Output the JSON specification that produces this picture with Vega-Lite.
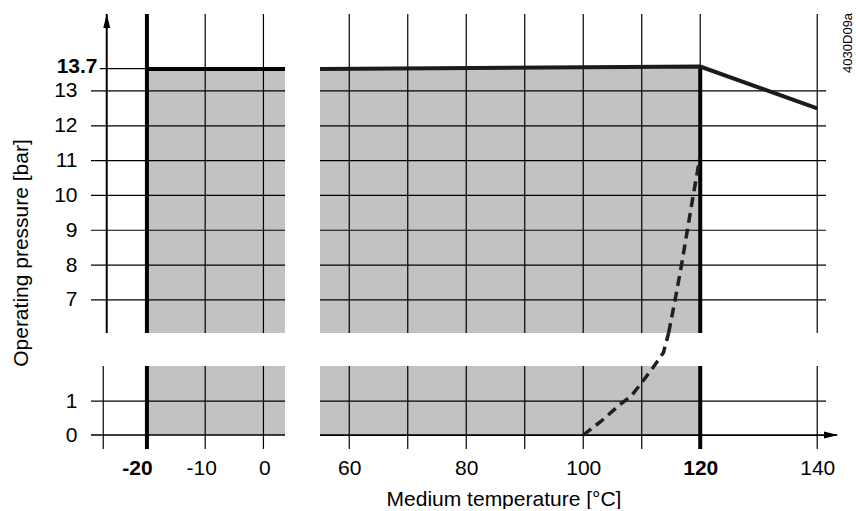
{
  "$schema": "https://vega.github.io/schema/vega-lite/v6.json",
  "padding": {"left": 10, "top": 12, "right": 0, "bottom": 0},
  "background": "white",
  "config": {
    "view": {"stroke": null},
    "axis": {"domain": false, "ticks": false, "tickSize": 0, "grid": false, "labelFont": "Liberation Sans", "labelFontSize": 21, "labelColor": "black", "titleFont": "Liberation Sans", "titleFontSize": 21, "titleFontWeight": "normal", "titleColor": "black"},
    "text": {"font": "Liberation Sans"}
  },
  "datasets": {
    "tlGray": [{"t": -20, "t2": 5, "p": 0, "p2": 13.63}],
    "gridTop": [{"p": 7}, {"p": 8}, {"p": 9}, {"p": 10}, {"p": 11}, {"p": 12}, {"p": 13}],
    "tick137": [{"t": -28.1, "t2": -20, "p": 13.64}],
    "tlThin": [{"t": -10}, {"t": 0}],
    "tlThick": [{"t": -20}],
    "yArrow": [{"t": -26.9, "p": 15.21}],
    "tlBound": [{"t": -20, "p": 13.63}, {"t": 5, "p": 13.63}],
    "trFill": [{"t": 50, "p": 13.625, "p0": 0}, {"t": 120, "p": 13.7, "p0": 0}],
    "trThin": [{"t": 60}, {"t": 70}, {"t": 80}, {"t": 90}, {"t": 100}, {"t": 110}, {"t": 120}, {"t": 140}],
    "trThick": [{"t": 120, "p": 0, "p2": 13.7}],
    "trBound": [{"t": 55, "p": 13.63}, {"t": 120, "p": 13.7}, {"t": 140, "p": 12.5}],
    "dashTop": [{"t": 114.6, "p": 6.05}, {"t": 115.7, "p": 7}, {"t": 116.8, "p": 8}, {"t": 117.8, "p": 9}, {"t": 118.8, "p": 10}, {"t": 119.9, "p": 11.05}],
    "code": [{"t": 146.0, "p": 14.38, "label": "4030D09a"}],
    "blGray": [{"t": -20, "t2": 5, "p": 0, "p2": 3}],
    "bGrid1": [{"p": 1}],
    "bGrid0": [{"p": 0}],
    "blThin": [{"t": -27.5}, {"t": -10}, {"t": 0}],
    "blThick": [{"t": -20}],
    "brGray": [{"t": 50, "t2": 120, "p": 0, "p2": 3}],
    "brAxis0": [{"t": 55, "t2": 143.4, "p": 0}],
    "xArrow": [{"t": 143.55, "p": 0}],
    "brThin": [{"t": 60}, {"t": 70}, {"t": 80}, {"t": 90}, {"t": 100}, {"t": 110}, {"t": 140}],
    "brThick": [{"t": 120}],
    "dashBot": [{"t": 100, "p": 0}, {"t": 103, "p": 0.4}, {"t": 106.3, "p": 0.9}, {"t": 108.2, "p": 1.15}, {"t": 110, "p": 1.54}, {"t": 112, "p": 2.0}, {"t": 113.7, "p": 2.42}, {"t": 114.6, "p": 3.0}]
  },
  "columns": 2,
  "align": "each",
  "bounds": "flush",
  "spacing": {"row": 33, "column": 35},
  "concat": [
    {
      "width": 194, "height": 319,
      "layer": [
        {"data": {"name": "tlGray"}, "mark": {"type": "rect", "color": "#c2c2c2", "clip": true},
         "encoding": {
           "x": {"field": "t", "type": "quantitative", "scale": {"domain": [-29.6, 3.7], "nice": false, "zero": false}, "axis": null},
           "x2": {"field": "t2"},
           "y": {"field": "p", "type": "quantitative", "scale": {"domain": [6.05, 15.21], "nice": false, "zero": false},
                 "axis": {"values": [7, 8, 9, 10, 11, 12, 13, 13.7], "format": ".1~f", "title": "Operating pressure [bar]",
                          "labelPadding": {"condition": {"test": "datum.value == 13.7", "value": -6}, "value": 14},
                          "labelFontWeight": {"condition": {"test": "datum.value == 13.7", "value": "bold"}, "value": "normal"},
                          "titleX": -64, "titleY": 238.5, "titleAngle": 270, "titleBaseline": "alphabetic", "titleAlign": "center"}},
           "y2": {"field": "p2"}}},
        {"data": {"name": "gridTop"}, "mark": {"type": "rule", "color": "black", "strokeWidth": 1.2},
         "encoding": {"y": {"field": "p", "type": "quantitative", "scale": {"domain": [6.05, 15.21], "nice": false, "zero": false}}}},
        {"data": {"name": "tick137"}, "mark": {"type": "rule", "color": "black", "strokeWidth": 1.2},
         "encoding": {
           "x": {"field": "t", "type": "quantitative", "scale": {"domain": [-29.6, 3.7], "nice": false, "zero": false}, "axis": null},
           "x2": {"field": "t2"},
           "y": {"field": "p", "type": "quantitative", "scale": {"domain": [6.05, 15.21], "nice": false, "zero": false}}}},
        {"data": {"name": "tlThin"}, "mark": {"type": "rule", "color": "black", "strokeWidth": 1.2},
         "encoding": {"x": {"field": "t", "type": "quantitative", "scale": {"domain": [-29.6, 3.7], "nice": false, "zero": false}, "axis": null}}},
        {"data": {"name": "tlThick"}, "mark": {"type": "rule", "color": "black", "strokeWidth": 4},
         "encoding": {"x": {"field": "t", "type": "quantitative", "scale": {"domain": [-29.6, 3.7], "nice": false, "zero": false}, "axis": null}}},
        {"data": {"name": "yArrow"}, "mark": {"type": "rule", "color": "black", "strokeWidth": 2},
         "encoding": {"x": {"field": "t", "type": "quantitative", "scale": {"domain": [-29.6, 3.7], "nice": false, "zero": false}, "axis": null}}},
        {"data": {"name": "yArrow"}, "mark": {"type": "point", "shape": "M0,-1L0.5,1L-0.5,1Z", "size": 196, "filled": true, "color": "black", "opacity": 1, "yOffset": 7},
         "encoding": {
           "x": {"field": "t", "type": "quantitative", "scale": {"domain": [-29.6, 3.7], "nice": false, "zero": false}, "axis": null},
           "y": {"field": "p", "type": "quantitative", "scale": {"domain": [6.05, 15.21], "nice": false, "zero": false}}}},
        {"data": {"name": "tlBound"}, "mark": {"type": "line", "color": "black", "strokeWidth": 4, "clip": true},
         "encoding": {
           "x": {"field": "t", "type": "quantitative", "scale": {"domain": [-29.6, 3.7], "nice": false, "zero": false}, "axis": null},
           "y": {"field": "p", "type": "quantitative", "scale": {"domain": [6.05, 15.21], "nice": false, "zero": false}}}}
      ]
    },
    {
      "width": 506, "height": 319,
      "layer": [
        {"data": {"name": "trFill"}, "mark": {"type": "area", "color": "#c2c2c2", "opacity": 1, "clip": true},
         "encoding": {
           "x": {"field": "t", "type": "quantitative", "scale": {"domain": [55, 141.5], "nice": false, "zero": false}, "axis": null},
           "y": {"field": "p", "type": "quantitative", "scale": {"domain": [6.05, 15.21], "nice": false, "zero": false}, "axis": null},
           "y2": {"field": "p0"}}},
        {"data": {"name": "gridTop"}, "mark": {"type": "rule", "color": "black", "strokeWidth": 1.2},
         "encoding": {"y": {"field": "p", "type": "quantitative", "scale": {"domain": [6.05, 15.21], "nice": false, "zero": false}, "axis": null}}},
        {"data": {"name": "trThin"}, "mark": {"type": "rule", "color": "black", "strokeWidth": 1.2},
         "encoding": {"x": {"field": "t", "type": "quantitative", "scale": {"domain": [55, 141.5], "nice": false, "zero": false}, "axis": null}}},
        {"data": {"name": "trThick"}, "mark": {"type": "rule", "color": "black", "strokeWidth": 4, "clip": true},
         "encoding": {
           "x": {"field": "t", "type": "quantitative", "scale": {"domain": [55, 141.5], "nice": false, "zero": false}, "axis": null},
           "y": {"field": "p", "type": "quantitative", "scale": {"domain": [6.05, 15.21], "nice": false, "zero": false}, "axis": null},
           "y2": {"field": "p2"}}},
        {"data": {"name": "trBound"}, "mark": {"type": "line", "color": "#1c1a1a", "strokeWidth": 4, "strokeJoin": "miter"},
         "encoding": {
           "x": {"field": "t", "type": "quantitative", "scale": {"domain": [55, 141.5], "nice": false, "zero": false}, "axis": null},
           "y": {"field": "p", "type": "quantitative", "scale": {"domain": [6.05, 15.21], "nice": false, "zero": false}, "axis": null}}},
        {"data": {"name": "dashTop"}, "mark": {"type": "line", "color": "#231f20", "strokeWidth": 3.5, "strokeDash": [10, 6]},
         "encoding": {
           "x": {"field": "t", "type": "quantitative", "scale": {"domain": [55, 141.5], "nice": false, "zero": false}, "axis": null},
           "y": {"field": "p", "type": "quantitative", "scale": {"domain": [6.05, 15.21], "nice": false, "zero": false}, "axis": null}}},
        {"data": {"name": "code"}, "mark": {"type": "text", "angle": 270, "align": "center", "baseline": "alphabetic", "fontSize": 13, "color": "black"},
         "encoding": {
           "x": {"field": "t", "type": "quantitative", "scale": {"domain": [55, 141.5], "nice": false, "zero": false}, "axis": null},
           "y": {"field": "p", "type": "quantitative", "scale": {"domain": [6.05, 15.21], "nice": false, "zero": false}, "axis": null},
           "text": {"field": "label"}}}
      ]
    },
    {
      "width": 194, "height": 83,
      "layer": [
        {"data": {"name": "blGray"}, "mark": {"type": "rect", "color": "#c2c2c2", "clip": true},
         "encoding": {
           "x": {"field": "t", "type": "quantitative", "scale": {"domain": [-29.6, 3.7], "nice": false, "zero": false},
                 "axis": {"values": [-20, -10, 0], "labelExpr": "'' + datum.value", "title": null, "labelBaseline": "alphabetic", "labelPadding": 25,
                          "labelOffset": {"condition": [{"test": "datum.value == -20", "value": -10}, {"test": "datum.value == -10", "value": -4}], "value": 1},
                          "labelFontWeight": {"condition": {"test": "datum.value == -20", "value": "bold"}, "value": "normal"}}},
           "x2": {"field": "t2"},
           "y": {"field": "p", "type": "quantitative", "scale": {"domain": [-0.41, 2.03], "nice": false, "zero": false},
                 "axis": {"values": [0, 1], "format": "d", "title": null, "labelPadding": 14}},
           "y2": {"field": "p2"}}},
        {"data": {"name": "bGrid1"}, "mark": {"type": "rule", "color": "black", "strokeWidth": 1.2},
         "encoding": {"y": {"field": "p", "type": "quantitative", "scale": {"domain": [-0.41, 2.03], "nice": false, "zero": false}}}},
        {"data": {"name": "bGrid0"}, "mark": {"type": "rule", "color": "black", "strokeWidth": 1.6},
         "encoding": {"y": {"field": "p", "type": "quantitative", "scale": {"domain": [-0.41, 2.03], "nice": false, "zero": false}}}},
        {"data": {"name": "blThin"}, "mark": {"type": "rule", "color": "black", "strokeWidth": 1.2},
         "encoding": {"x": {"field": "t", "type": "quantitative", "scale": {"domain": [-29.6, 3.7], "nice": false, "zero": false}}}},
        {"data": {"name": "blThick"}, "mark": {"type": "rule", "color": "black", "strokeWidth": 4},
         "encoding": {"x": {"field": "t", "type": "quantitative", "scale": {"domain": [-29.6, 3.7], "nice": false, "zero": false}}}}
      ]
    },
    {
      "width": 506, "height": 83,
      "layer": [
        {"data": {"name": "brGray"}, "mark": {"type": "rect", "color": "#c2c2c2", "clip": true},
         "encoding": {
           "x": {"field": "t", "type": "quantitative", "scale": {"domain": [55, 141.5], "nice": false, "zero": false},
                 "axis": {"values": [60, 80, 100, 120, 140], "format": "d", "title": "Medium temperature [°C]", "labelBaseline": "alphabetic", "labelPadding": 25,
                          "labelFontWeight": {"condition": {"test": "datum.value == 120", "value": "bold"}, "value": "normal"},
                          "titleX": 183.5, "titleY": 56, "titleBaseline": "alphabetic", "titleAlign": "center"}},
           "x2": {"field": "t2"},
           "y": {"field": "p", "type": "quantitative", "scale": {"domain": [-0.41, 2.03], "nice": false, "zero": false}, "axis": null},
           "y2": {"field": "p2"}}},
        {"data": {"name": "bGrid1"}, "mark": {"type": "rule", "color": "black", "strokeWidth": 1.2},
         "encoding": {"y": {"field": "p", "type": "quantitative", "scale": {"domain": [-0.41, 2.03], "nice": false, "zero": false}, "axis": null}}},
        {"data": {"name": "brAxis0"}, "mark": {"type": "rule", "color": "black", "strokeWidth": 1.8},
         "encoding": {
           "x": {"field": "t", "type": "quantitative", "scale": {"domain": [55, 141.5], "nice": false, "zero": false}},
           "x2": {"field": "t2"},
           "y": {"field": "p", "type": "quantitative", "scale": {"domain": [-0.41, 2.03], "nice": false, "zero": false}, "axis": null}}},
        {"data": {"name": "xArrow"}, "mark": {"type": "point", "shape": "M1,0L-1,-0.5L-1,0.5Z", "size": 196, "filled": true, "color": "black", "opacity": 1, "xOffset": -7},
         "encoding": {
           "x": {"field": "t", "type": "quantitative", "scale": {"domain": [55, 141.5], "nice": false, "zero": false}},
           "y": {"field": "p", "type": "quantitative", "scale": {"domain": [-0.41, 2.03], "nice": false, "zero": false}, "axis": null}}},
        {"data": {"name": "brThin"}, "mark": {"type": "rule", "color": "black", "strokeWidth": 1.2},
         "encoding": {"x": {"field": "t", "type": "quantitative", "scale": {"domain": [55, 141.5], "nice": false, "zero": false}}}},
        {"data": {"name": "brThick"}, "mark": {"type": "rule", "color": "black", "strokeWidth": 4},
         "encoding": {"x": {"field": "t", "type": "quantitative", "scale": {"domain": [55, 141.5], "nice": false, "zero": false}}}},
        {"data": {"name": "dashBot"}, "mark": {"type": "line", "color": "#231f20", "strokeWidth": 3.5, "strokeDash": [10, 6]},
         "encoding": {
           "x": {"field": "t", "type": "quantitative", "scale": {"domain": [55, 141.5], "nice": false, "zero": false}},
           "y": {"field": "p", "type": "quantitative", "scale": {"domain": [-0.41, 2.03], "nice": false, "zero": false}, "axis": null}}}
      ]
    }
  ]
}
